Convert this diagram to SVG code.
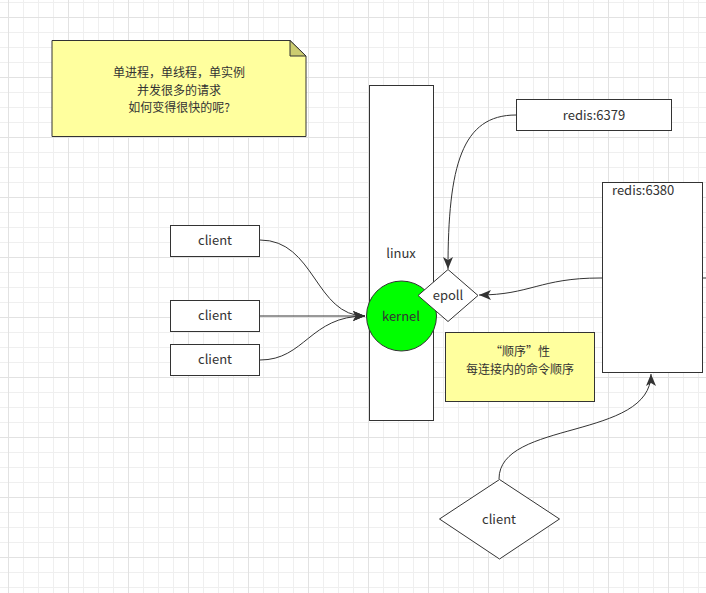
<svg xmlns="http://www.w3.org/2000/svg" width="706" height="593" viewBox="0 0 706 593">
  <style>
    .box { fill: #ffffff; stroke: #333333; stroke-width: 1; }
    .note { fill: #ffff9e; stroke: #333333; stroke-width: 1; }
    .t { font-family: "Noto Sans CJK SC", "Liberation Sans", sans-serif; font-size: 13px; fill: #333333; text-anchor: middle; dominant-baseline: central; }
    .m { font-size: 12px; }
    .edge { fill: none; stroke: #333333; stroke-width: 1; }
  </style>
  <defs>
    <pattern id="grid" x="8" y="17" width="60" height="60" patternUnits="userSpaceOnUse">
      <path d="M15.5,0 V60 M30.5,0 V60 M45.5,0 V60 M0,15.5 H60 M0,30.5 H60 M0,45.5 H60" stroke="#efefef" stroke-width="1" fill="none"/>
      <path d="M0.5,0 V60 M0,0.5 H60" stroke="#e2e2e2" stroke-width="1" fill="none"/>
    </pattern>
    <marker id="arr" markerWidth="12" markerHeight="10" refX="12" refY="5" orient="auto" markerUnits="userSpaceOnUse">
      <path d="M0,0 L12,5 L0,10 L3,5 z" fill="#333333"/>
    </marker>
  </defs>
  <rect x="0" y="0" width="706" height="593" fill="#ffffff"/>
  <rect x="0" y="0" width="706" height="593" fill="url(#grid)"/>

  <g id="connectors">
    <path class="edge" d="M260,240 C315,240 315,316 365,316" marker-end="url(#arr)"/>
    <path class="edge" d="M260,316 L365,316" marker-end="url(#arr)"/>
    <path class="edge" d="M260,360 C305,360 310,316 365,316" marker-end="url(#arr)"/>
    <path class="edge" d="M516,115 C462,115 448,165 448,269" marker-end="url(#arr)"/>
    <path class="edge" d="M706,278 L600,278 C540,278 530,295 479,295" marker-end="url(#arr)"/>
    <path class="edge" d="M499,479 C499,420 651,440 651,374" marker-end="url(#arr)"/>
  </g>

  <g id="note-question">
    <path class="note" d="M52,40.5 H290 L306,56 V136.5 H52 Z"/>
    <path d="M290,40.5 L306,56 H290 Z" fill="#cccc70" stroke="#333333" stroke-width="1"/>
    <text class="t m" x="179" y="71.5">单进程，单线程，单实例</text>
    <text class="t m" x="179" y="89">并发很多的请求</text>
    <text class="t m" x="179" y="106.5">如何变得很快的呢?</text>
  </g>

  <g id="linux">
    <rect class="box" x="369.5" y="85.5" width="64" height="335"/>
    <text class="t" x="401" y="252">linux</text>
  </g>

  <g id="kernel">
    <circle cx="401.5" cy="316" r="35" fill="#00ff00" stroke="#333333" stroke-width="1"/>
    <text class="t" x="401" y="315">kernel</text>
  </g>

  <g id="epoll">
    <path class="box" d="M448,269.5 L478,295.5 L448,321.5 L418,295.5 Z"/>
    <text class="t" x="448" y="294">epoll</text>
  </g>

  <g id="redis6379">
    <rect class="box" x="516.5" y="99.5" width="155" height="31"/>
    <text class="t" x="594" y="114">redis:6379</text>
  </g>

  <g id="redis6380">
    <rect class="box" x="602.5" y="182.5" width="100" height="190"/>
    <text class="t" x="612" y="189" style="text-anchor:start">redis:6380</text>
  </g>

  <g id="client1">
    <rect class="box" x="170.5" y="225.5" width="89" height="31"/>
    <text class="t" x="215" y="239">client</text>
  </g>
  <g id="client2">
    <rect class="box" x="170.5" y="300.5" width="89" height="31"/>
    <text class="t" x="215" y="314">client</text>
  </g>
  <g id="client3">
    <rect class="box" x="170.5" y="344.5" width="89" height="31"/>
    <text class="t" x="215" y="358">client</text>
  </g>

  <g id="note-order">
    <rect class="note" x="445.5" y="332.5" width="149" height="69"/>
    <text class="t m" x="520" y="350.5">“顺序”性</text>
    <text class="t m" x="520" y="368">每连接内的命令顺序</text>
  </g>

  <g id="client4">
    <path class="box" d="M499.5,479.5 L559.5,519 L499.5,559 L439.5,519 Z"/>
    <text class="t" x="499" y="518">client</text>
  </g>
</svg>
